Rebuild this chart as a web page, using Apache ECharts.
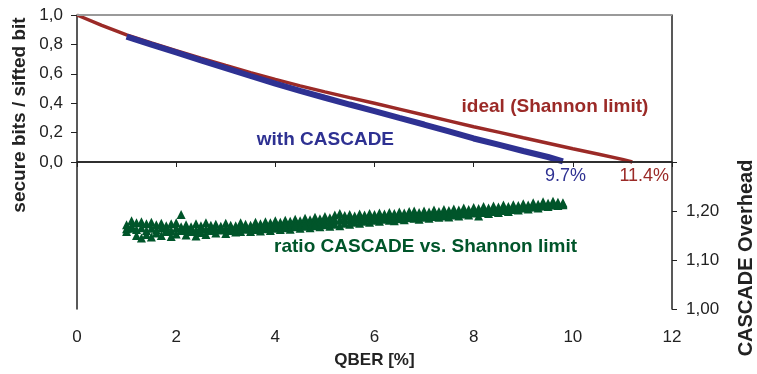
<!DOCTYPE html>
<html>
<head>
<meta charset="utf-8">
<script src="https://cdn.jsdelivr.net/npm/echarts@6/dist/echarts.min.js"></script>
<style>
  html, body { margin: 0; padding: 0; background: #fff; }
  #chart { width: 757px; height: 374px; }
</style>
</head>
<body>
<div id="chart"></div>
<script>
// ideal (Shannon limit) curve, QBER [%] vs secure bits / sifted bit
var qberIdeal = [0, 0.5, 1, 1.5, 2, 2.5, 3, 3.5, 4, 4.5, 5, 5.5, 6, 6.5, 7, 7.5, 8, 8.5, 9, 9.5, 10, 10.5, 11, 11.2];
var ideal = [1.0, 0.93, 0.865, 0.81, 0.758, 0.707, 0.657, 0.608, 0.562, 0.518, 0.477, 0.438, 0.40, 0.36, 0.32, 0.28, 0.24, 0.203, 0.165, 0.128, 0.09, 0.054, 0.018, 0.0];

// with CASCADE
var qberCascade = [1, 1.5, 2, 2.5, 3, 3.5, 4, 4.5, 5, 5.5, 6, 6.5, 7, 7.5, 8, 8.5, 9, 9.5, 9.8];
var cascade = [0.853, 0.798, 0.745, 0.692, 0.639, 0.585, 0.533, 0.484, 0.437, 0.391, 0.346, 0.30, 0.255, 0.208, 0.16, 0.118, 0.075, 0.034, 0.005];

// ratio CASCADE vs. Shannon limit (right axis), three rows of points per QBER
var qberRatio = [1.0, 1.1, 1.2, 1.3, 1.4, 1.5, 1.6, 1.7, 1.8, 1.9,
  2.0, 2.1, 2.2, 2.3, 2.4, 2.5, 2.6, 2.7, 2.8, 2.9,
  3.0, 3.1, 3.2, 3.3, 3.4, 3.5, 3.6, 3.7, 3.8, 3.9,
  4.0, 4.1, 4.2, 4.3, 4.4, 4.5, 4.6, 4.7, 4.8, 4.9,
  5.0, 5.1, 5.2, 5.3, 5.4, 5.5, 5.6, 5.7, 5.8, 5.9,
  6.0, 6.1, 6.2, 6.3, 6.4, 6.5, 6.6, 6.7, 6.8, 6.9,
  7.0, 7.1, 7.2, 7.3, 7.4, 7.5, 7.6, 7.7, 7.8, 7.9,
  8.0, 8.1, 8.2, 8.3, 8.4, 8.5, 8.6, 8.7, 8.8, 8.9,
  9.0, 9.1, 9.2, 9.3, 9.4, 9.5, 9.6, 9.7, 9.8];
var ratioUpper = [1.172, 1.180, 1.176, 1.178, 1.174, 1.177, 1.172, 1.175, 1.170, 1.174,
  1.176, 1.193, 1.172, 1.168, 1.174, 1.170, 1.176, 1.171, 1.173, 1.169,
  1.175, 1.171, 1.170, 1.176, 1.173, 1.171, 1.177, 1.174, 1.178, 1.176,
  1.180, 1.177, 1.181, 1.179, 1.183, 1.180, 1.185, 1.182, 1.187, 1.184,
  1.189, 1.186, 1.192, 1.195, 1.191, 1.193, 1.190, 1.194, 1.192, 1.195,
  1.193, 1.196, 1.194, 1.197, 1.195, 1.198, 1.196, 1.199, 1.200, 1.197,
  1.200, 1.198, 1.202, 1.199, 1.203, 1.201, 1.204, 1.202, 1.206, 1.203,
  1.207, 1.205, 1.209, 1.206, 1.210, 1.208, 1.212, 1.209, 1.213, 1.211,
  1.215, 1.212, 1.217, 1.214, 1.219, 1.216, 1.220, 1.218, 1.217];
var ratioMiddle = [1.164, 1.170, 1.162, 1.166, 1.160, 1.165, 1.161, 1.166, 1.163, 1.160,
  1.165, 1.168, 1.162, 1.164, 1.160, 1.164, 1.163, 1.166, 1.162, 1.165,
  1.164, 1.167, 1.163, 1.168, 1.166, 1.164, 1.169, 1.166, 1.170, 1.168,
  1.172, 1.170, 1.173, 1.171, 1.175, 1.173, 1.177, 1.174, 1.178, 1.176,
  1.180, 1.178, 1.182, 1.181, 1.183, 1.182, 1.184, 1.183, 1.186, 1.185,
  1.187, 1.186, 1.189, 1.188, 1.187, 1.191, 1.189, 1.192, 1.192, 1.190,
  1.193, 1.192, 1.195, 1.193, 1.196, 1.195, 1.198, 1.196, 1.200, 1.198,
  1.201, 1.198, 1.203, 1.201, 1.204, 1.203, 1.206, 1.204, 1.208, 1.206,
  1.210, 1.208, 1.212, 1.210, 1.214, 1.212, 1.216, 1.214, 1.215];
var ratioLower = [1.158, 1.165, 1.150, 1.145, 1.152, 1.147, 1.155, 1.150, 1.158, 1.148,
  1.153, 1.160, 1.151, 1.158, 1.149, 1.156, 1.152, 1.160, 1.155, 1.161,
  1.154, 1.160, 1.157, 1.158, 1.163, 1.158, 1.162, 1.159, 1.164, 1.160,
  1.165, 1.162, 1.166, 1.163, 1.168, 1.165, 1.169, 1.166, 1.170, 1.168,
  1.172, 1.169, 1.173, 1.170, 1.175, 1.173, 1.177, 1.175, 1.179, 1.177,
  1.181, 1.179, 1.183, 1.181, 1.180, 1.184, 1.182, 1.186, 1.185, 1.183,
  1.187, 1.185, 1.189, 1.187, 1.190, 1.188, 1.192, 1.190, 1.194, 1.192,
  1.196, 1.190, 1.197, 1.195, 1.199, 1.197, 1.201, 1.199, 1.203, 1.202,
  1.206, 1.204, 1.208, 1.206, 1.210, 1.209, 1.212, 1.211, 1.213];

var xTicks = [0, 2, 4, 6, 8, 10, 12];
var leftTicks = [0, 0.2, 0.4, 0.6, 0.8, 1.0];
var rightLabels = [1.0, 1.1, 1.2];
var rightTicks = [1.0, 1.1, 1.2, 1.3];

var red = '#9b2a27', blue = '#2e3192', green = '#00552a';
var font = '"Liberation Sans", Arial, sans-serif';

function pairs(xs, ys) {
  return xs.map(function (x, i) { return [x, ys[i]]; });
}
function note(text, coord, color, bold) {
  return {
    coord: coord,
    symbol: 'rect', symbolSize: 1,
    itemStyle: { color: 'rgba(0,0,0,0)' },
    label: {
      show: true, position: 'inside', formatter: text, color: color,
      fontFamily: font, fontSize: bold ? 19 : 18, fontWeight: bold ? 'bold' : 'normal'
    }
  };
}
function ratioSeries(name, ys) {
  return {
    name: name,
    type: 'scatter', yAxisIndex: 1,
    data: pairs(qberRatio, ys),
    symbol: 'triangle', symbolSize: 9,
    itemStyle: { color: green, opacity: 1 }
  };
}

var chart = echarts.init(document.getElementById('chart'), null, { renderer: 'canvas' });
var ratioTop = ratioSeries('ratio upper', ratioUpper);
ratioTop.markPoint = {
  silent: true,
  data: [note('ratio CASCADE vs. Shannon limit', [7.03, 1.127], green, true)]
};

var option = {
  animation: false,
  backgroundColor: '#fff',
  textStyle: { fontFamily: font },
  grid: { left: 77, right: 85, top: 15, bottom: 61, containLabel: false },
  xAxis: {
    type: 'value', min: 0, max: 12, interval: 2,
    name: 'QBER [%]', nameLocation: 'middle', nameGap: 43,
    nameTextStyle: { fontFamily: font, fontSize: 17, fontWeight: 'bold', color: '#222' },
    axisLine: { lineStyle: { color: '#222', width: 1.5 } },
    axisTick: { length: 5, lineStyle: { color: '#222' }, customValues: xTicks },
    axisLabel: { fontSize: 17, color: '#222', margin: 20, customValues: xTicks },
    splitLine: { show: false }
  },
  yAxis: [{
    type: 'value', min: -1, max: 1, interval: 0.2, position: 'left',
    axisLine: { show: true, lineStyle: { color: '#222', width: 1.5 } },
    axisTick: { show: true, length: 6, lineStyle: { color: '#222' }, customValues: leftTicks },
    axisLabel: {
      fontSize: 17, color: '#222', margin: 14, customValues: leftTicks,
      formatter: function (v) { return v.toFixed(1).replace('.', ','); }
    },
    splitLine: { show: false }
  }, {
    type: 'value', min: 1.0, max: 1.6, interval: 0.1, position: 'right',
    axisLine: { show: true, lineStyle: { color: '#222', width: 1.5 } },
    axisTick: { show: true, length: 5, lineStyle: { color: '#222' }, customValues: rightTicks },
    axisLabel: {
      fontSize: 17, color: '#222', margin: 14, customValues: rightLabels,
      formatter: function (v) { return v.toFixed(2).replace('.', ','); }
    },
    splitLine: { show: false }
  }],
  graphic: [{
    type: 'text', x: 20, y: 115, rotation: Math.PI / 2,
    style: { text: 'secure bits / sifted bit', font: 'bold 19px ' + font, fill: '#222', align: 'center', verticalAlign: 'middle' }
  }, {
    type: 'text', x: 746, y: 258, rotation: Math.PI / 2,
    style: { text: 'CASCADE Overhead', font: 'bold 20px ' + font, fill: '#222', align: 'center', verticalAlign: 'middle' }
  }],
  series: [{
    name: 'ideal (Shannon limit)',
    type: 'line', yAxisIndex: 0,
    data: pairs(qberIdeal, ideal),
    showSymbol: false,
    lineStyle: { color: red, width: 3.5 },
    markLine: {
      silent: true, symbol: ['none', 'none'], label: { show: false },
      data: [
        { yAxis: 1, lineStyle: { color: '#9a9a9a', width: 2, type: 'solid' } },
        { yAxis: 0, lineStyle: { color: '#222', width: 1.5, type: 'solid' } }
      ]
    },
    markPoint: {
      silent: true,
      data: [
        note('ideal (Shannon limit)', [9.64, 0.376], red, true),
        note('11.4%', [11.44, -0.094], red, false)
      ]
    },
    z: 2
  }, {
    name: 'with CASCADE',
    type: 'line', yAxisIndex: 0,
    data: pairs(qberCascade, cascade),
    showSymbol: false,
    lineStyle: { color: blue, width: 6 },
    markPoint: {
      silent: true,
      data: [
        note('with CASCADE', [5.01, 0.148], blue, true),
        note('9.7%', [9.85, -0.094], blue, false)
      ]
    },
    z: 3
  },
  ratioTop,
  ratioSeries('ratio middle', ratioMiddle),
  ratioSeries('ratio lower', ratioLower)]
};
chart.setOption(option);
</script>
</body>
</html>
